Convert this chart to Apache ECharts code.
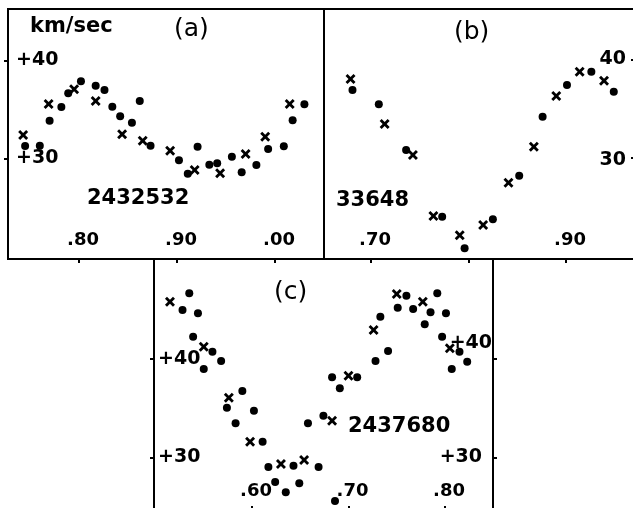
<!DOCTYPE html>
<html>
<head>
    <meta charset="UTF-8">
    <title>km/sec phase curves</title>
    <script src="https://cdn.jsdelivr.net/npm/echarts@6/dist/echarts.min.js"></script>
    <style>
        html, body { margin: 0; padding: 0; background: #fff; }
        #chart { width: 633px; height: 508px; }
    </style>
</head>
<body>
<div id="chart"></div>
<script>
    // [phase, velocity km/sec]
    var crossA = [[0.743, 32.40], [0.769, 35.56], [0.795, 37.06], [0.817, 35.87], [0.844, 32.47], [0.865, 31.82],
        [0.893, 30.80], [0.918, 28.83], [0.944, 28.49], [0.970, 30.46], [0.990, 32.22], [1.015, 35.56]];
    var dotA = [[0.745, 31.28], [0.760, 31.31], [0.770, 33.86], [0.782, 35.26], [0.789, 36.65], [0.802, 37.88],
        [0.817, 37.43], [0.826, 36.99], [0.834, 35.29], [0.842, 34.31], [0.854, 33.65], [0.862, 35.87],
        [0.873, 31.31], [0.902, 29.82], [0.911, 28.45], [0.921, 31.20], [0.933, 29.37], [0.941, 29.51],
        [0.956, 30.18], [0.966, 28.59], [0.981, 29.34], [0.993, 30.97], [1.009, 31.24], [1.018, 33.90],
        [1.030, 35.53]];

    var crossB = [[0.679, 38.02], [0.714, 33.45], [0.743, 30.30], [0.764, 24.11], [0.791, 22.15], [0.815, 23.20],
        [0.841, 27.49], [0.867, 31.15], [0.890, 36.29], [0.914, 38.76], [0.939, 37.85]];
    var dotB = [[0.681, 36.90], [0.708, 35.45], [0.736, 30.81], [0.773, 24.04], [0.796, 20.83], [0.825, 23.78],
        [0.852, 28.20], [0.876, 34.19], [0.901, 37.41], [0.926, 38.76], [0.949, 36.73]];

    var crossC = [[0.515, 45.82], [0.550, 41.25], [0.576, 36.07], [0.598, 31.60], [0.630, 29.34], [0.654, 29.75],
        [0.683, 33.74], [0.700, 38.30], [0.726, 42.94], [0.750, 46.60], [0.777, 45.82], [0.805, 41.09]];
    var dotC = [[0.535, 46.67], [0.528, 44.97], [0.544, 44.64], [0.539, 42.26], [0.559, 40.74], [0.568, 39.80],
        [0.550, 38.98], [0.590, 36.75], [0.574, 35.06], [0.602, 34.75], [0.583, 33.47], [0.611, 31.60],
        [0.617, 29.04], [0.643, 29.17], [0.669, 29.04], [0.624, 27.51], [0.635, 26.47], [0.649, 27.38],
        [0.658, 33.47], [0.674, 34.24], [0.686, 25.58], [0.683, 38.14], [0.691, 37.03], [0.709, 38.14],
        [0.728, 39.80], [0.741, 40.81], [0.733, 44.29], [0.760, 46.43], [0.751, 45.21], [0.767, 45.08],
        [0.785, 44.74], [0.779, 43.52], [0.792, 46.67], [0.801, 44.64], [0.797, 42.26], [0.815, 40.74],
        [0.823, 39.73], [0.807, 38.98]];

    var phaseTicksA = [0.80, 0.90, 1.00];
    var phaseTicksB = [0.70, 0.80, 0.90];
    var phaseLabelsB = [0.70, 0.90];
    var phaseTicksC = [0.60, 0.70, 0.80];
    var velTicks = [30, 40];
    var panelTags = ['(a)', '(b)', '(c)'];
    var starIds = ['2432532', '33648', '2437680'];
    var unitLabel = 'km/sec';

    var FONT = 'DejaVu Sans';
    var CROSS = 'path://M0,2L2,0L5,3L8,0L10,2L7,5L10,8L8,10L5,7L2,10L0,8L3,5Z';

    function phaseFmt(v) {
        var s = (Math.round(v * 100) % 100).toString();
        if (s.length < 2) s = '0' + s;
        return '.' + s;
    }

    function xAxisFor(idx, min, max, ticks, labels, tickInside) {
        return {
            type: 'value', gridIndex: idx, min: min, max: max,
            splitLine: { show: false },
            axisLine: { show: false },
            axisTick: { show: true, inside: tickInside, length: 4, customValues: ticks, lineStyle: { color: '#000', width: 2 } },
            axisLabel: {
                show: labels.length > 0, inside: true, margin: 10, customValues: labels,
                formatter: phaseFmt, color: '#000', fontFamily: FONT, fontWeight: 'bold', fontSize: 18,
                padding: [0, 0, 0, 8]
            }
        };
    }

    var chart = echarts.init(document.getElementById('chart'), null, { renderer: 'canvas' });

    var gridBase = { show: true, borderColor: '#000', borderWidth: 2, containLabel: false, outerBoundsMode: 'none' };

    var option = {
        backgroundColor: '#fff',
        animation: false,
        grid: [
            Object.assign({ left: 8, top: 9, width: 316, height: 250 }, gridBase),
            Object.assign({ left: 324, top: 9, width: 312, height: 250 }, gridBase),
            Object.assign({ left: 154, top: 259, width: 339, height: 251 }, gridBase)
        ],
        xAxis: [
            xAxisFor(0, 0.72755, 1.05, phaseTicksA, phaseTicksA, false),
            xAxisFor(1, 0.65179, 0.97179, phaseTicksB, phaseLabelsB, false),
            xAxisFor(2, 0.49845, 0.84974, phaseTicksC, phaseTicksC, true)
        ],
        yAxis: [
            {
                type: 'value', gridIndex: 0, min: 19.745, max: 45.255,
                splitLine: { show: false }, axisLine: { show: false },
                axisTick: { show: true, length: 4, customValues: velTicks, lineStyle: { color: '#000', width: 2 } },
                axisLabel: {
                    inside: true, margin: 8, customValues: velTicks,
                    formatter: function (v) { return '+' + v; },
                    color: '#000', fontFamily: FONT, fontWeight: 'bold', fontSize: 19
                }
            },
            {
                type: 'value', gridIndex: 1, position: 'right', min: 19.746, max: 45.127,
                splitLine: { show: false }, axisLine: { show: false },
                axisTick: { show: true, inside: true, length: 5, customValues: velTicks, lineStyle: { color: '#000', width: 2 } },
                axisLabel: {
                    inside: true, margin: 10, customValues: velTicks,
                    formatter: function (v) { return v === 40 ? '{a|' + v + '}' : '{b|' + v + '}'; },
                    rich: {
                        a: { fontFamily: FONT, fontWeight: 'bold', fontSize: 19, color: '#000', padding: [0, 0, 0, 0] },
                        b: { fontFamily: FONT, fontWeight: 'bold', fontSize: 19, color: '#000', padding: [4, 0, 0, 0] }
                    }
                }
            },
            {
                type: 'value', gridIndex: 2, min: 24.670, max: 50.152,
                splitLine: { show: false }, axisLine: { show: false },
                axisTick: { show: true, length: 4, customValues: velTicks, lineStyle: { color: '#000', width: 2 } },
                axisLabel: {
                    inside: true, margin: 4, customValues: velTicks,
                    formatter: function (v) { return '+' + v; },
                    color: '#000', fontFamily: FONT, fontWeight: 'bold', fontSize: 19
                }
            },
            {
                type: 'value', gridIndex: 2, position: 'right', min: 24.670, max: 50.152,
                splitLine: { show: false }, axisLine: { show: false },
                axisTick: { show: true, length: 4, customValues: velTicks, lineStyle: { color: '#000', width: 2 } },
                axisLabel: {
                    inside: true, margin: 1, customValues: velTicks,
                    formatter: function (v) { return v === 40 ? '{up|+' + v + '}' : '{rt|+' + v + '}'; },
                    rich: {
                        up: { fontFamily: FONT, fontWeight: 'bold', fontSize: 19, color: '#000', padding: [0, 0, 32, 0] },
                        rt: { fontFamily: FONT, fontWeight: 'bold', fontSize: 19, color: '#000', padding: [0, 10, 0, 0] }
                    }
                }
            }
        ],
        series: [
            { type: 'scatter', xAxisIndex: 0, yAxisIndex: 0, data: crossA, symbol: CROSS, symbolSize: [10, 10], itemStyle: { color: '#000', opacity: 1 } },
            { type: 'scatter', xAxisIndex: 0, yAxisIndex: 0, data: dotA, symbol: 'circle', symbolSize: 8, itemStyle: { color: '#000', opacity: 1 } },
            { type: 'scatter', xAxisIndex: 1, yAxisIndex: 1, data: crossB, symbol: CROSS, symbolSize: [10, 10], itemStyle: { color: '#000', opacity: 1 } },
            { type: 'scatter', xAxisIndex: 1, yAxisIndex: 1, data: dotB, symbol: 'circle', symbolSize: 8, itemStyle: { color: '#000', opacity: 1 } },
            { type: 'scatter', xAxisIndex: 2, yAxisIndex: 2, data: crossC, symbol: CROSS, symbolSize: [10, 10], itemStyle: { color: '#000', opacity: 1 } },
            { type: 'scatter', xAxisIndex: 2, yAxisIndex: 2, data: dotC, symbol: 'circle', symbolSize: 8, itemStyle: { color: '#000', opacity: 1 } }
        ],
        graphic: [
            { type: 'text', left: 30, top: 16, style: { text: unitLabel, font: 'bold 21px ' + FONT, fill: '#000' } },
            { type: 'text', left: 174, top: 17, style: { text: panelTags[0], font: '25px ' + FONT, fill: '#000' } },
            { type: 'text', left: 454, top: 20, style: { text: panelTags[1], font: '25px ' + FONT, fill: '#000' } },
            { type: 'text', left: 274, top: 280, style: { text: panelTags[2], font: '25px ' + FONT, fill: '#000' } },
            { type: 'text', left: 87, top: 188, style: { text: starIds[0], font: 'bold 21px ' + FONT, fill: '#000' } },
            { type: 'text', left: 336, top: 190, style: { text: starIds[1], font: 'bold 21px ' + FONT, fill: '#000' } },
            { type: 'text', left: 348, top: 416, style: { text: starIds[2], font: 'bold 21px ' + FONT, fill: '#000' } }
        ]
    };

    chart.setOption(option);
</script>
</body>
</html>
